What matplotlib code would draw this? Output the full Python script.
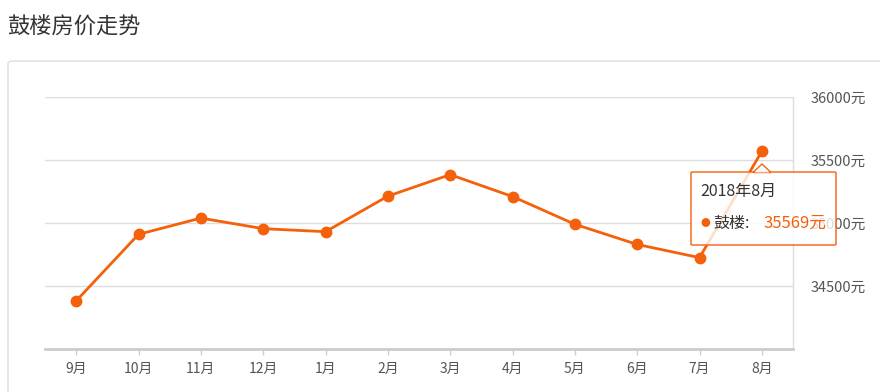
import matplotlib
matplotlib.use("Agg")
import matplotlib.pyplot as plt
from matplotlib.patches import FancyBboxPatch, Polygon

plt.rcParams['font.family'] = ['Noto Sans CJK SC', 'DejaVu Sans']

months = ["9月", "10月", "11月", "12月", "1月", "2月", "3月",
          "4月", "5月", "6月", "7月", "8月"]
prices = [34382, 34910, 35039, 34955, 34931, 35213, 35384,
          35210, 34990, 34830, 34725, 35569]
y_ticks = [34500, 35000, 35500, 36000]
tip_title = "2018年8月"
tip_name = "鼓楼"

ORANGE = "#f5600a"
W, H = 880, 392


def fx(px):
    return px / W


def fy(py):
    return 1 - py / H


fig = plt.figure(figsize=(8.8, 3.92), dpi=100)
fig.patch.set_facecolor("white")

fig.text(fx(7), fy(26), "鼓楼房价走势", fontsize=16, color="#333333",
         ha="left", va="center")

panel = FancyBboxPatch((fx(8), fy(420)), fx(900), fy(61) - fy(420),
                       boxstyle="round,pad=0,rounding_size=0.006",
                       transform=fig.transFigure, facecolor="white",
                       edgecolor="#dddddd", linewidth=1.0, zorder=-5)
fig.add_artist(panel)

ax = fig.add_axes([fx(45), fy(349), fx(793) - fx(45), fy(97) - fy(349)])
ax.set_zorder(1)
ax.set_facecolor("none")
x = list(range(len(months)))
ax.plot(x, prices, color=ORANGE, lw=2.0, marker="o", ms=7.5, zorder=3,
        clip_on=False)
ax.set_xlim(-0.5, len(months) - 0.5)
ax.set_ylim(34000, 36000)
ax.set_xticks(x, months)
ax.yaxis.tick_right()
ax.set_yticks(y_ticks, [f"{v}元" for v in y_ticks])
ax.grid(axis="y", color="#dddddd", lw=1.0)
ax.tick_params(axis="x", colors="#cccccc", labelcolor="#555555",
               labelsize=10, length=4, width=1, pad=5)
ax.tick_params(axis="y", length=0, labelcolor="#555555", labelsize=10.5,
               pad=13)
for s in ["top", "left"]:
    ax.spines[s].set_visible(False)
ax.spines["bottom"].set_color("#cccccc")
ax.spines["bottom"].set_linewidth(2)
ax.spines["right"].set_color("#dddddd")
ax.spines["right"].set_linewidth(1)

# tooltip (semi-transparent, drawn over the axes)
tip = FancyBboxPatch((fx(691), fy(245)), fx(836) - fx(691), fy(172) - fy(245),
                     boxstyle="round,pad=0,rounding_size=0.002",
                     transform=fig.transFigure, facecolor=(1, 1, 1, 0.8),
                     edgecolor=ORANGE, linewidth=1.0, zorder=10)
fig.add_artist(tip)
tri = Polygon([(fx(753), fy(172.5)), (fx(762), fy(164)), (fx(771), fy(172.5))],
              closed=True, transform=fig.transFigure, facecolor=(1, 1, 1, 0.8),
              edgecolor=ORANGE, lw=1.0, zorder=11)
fig.add_artist(tri)
cover = Polygon([(fx(754.5), fy(172.5)), (fx(769.5), fy(172.5)), (fx(762), fy(166))],
                closed=True, transform=fig.transFigure, facecolor="white",
                edgecolor="none", alpha=0.8, zorder=12)
fig.add_artist(cover)
fig.text(fx(700), fy(191), tip_title, fontsize=11.5, color="#333333",
         ha="left", va="center", zorder=13)
fig.text(fx(705), fy(223), "●", fontsize=7, color=ORANGE,
         ha="center", va="center", zorder=13)
fig.text(fx(713), fy(223), f"{tip_name}:", fontsize=11.5, color="#333333",
         ha="left", va="center", zorder=13)
fig.text(fx(763), fy(223), f"{prices[-1]}元", fontsize=12, color=ORANGE,
         ha="left", va="center", zorder=13)

fig.savefig("out.png", dpi=100)
